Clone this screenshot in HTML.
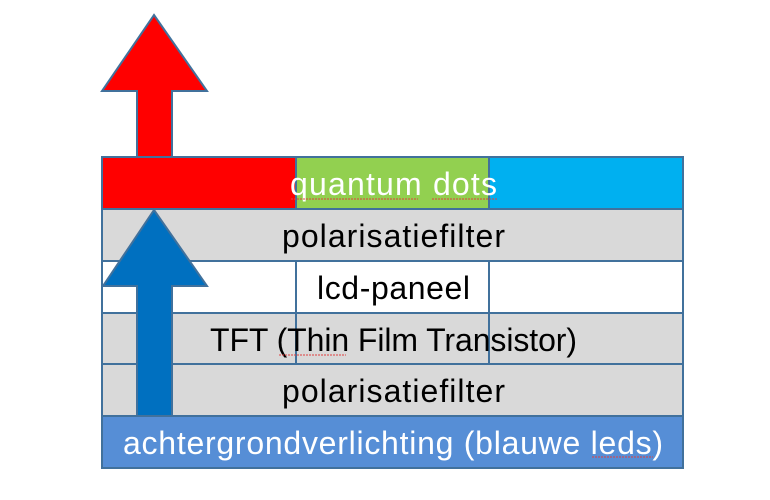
<!DOCTYPE html>
<html>
<head>
<meta charset="utf-8">
<style>
html,body{margin:0;padding:0;background:#fff;}
svg{display:block;}
text{font-family:"Liberation Sans",Arial,sans-serif;font-size:32px;}
</style>
</head>
<body>
<svg width="770" height="500" viewBox="0 0 770 500" xmlns="http://www.w3.org/2000/svg">
  <g stroke="#41719C" stroke-width="2">
    <!-- quantum dots row -->
    <rect x="102" y="157" width="194" height="52" fill="#FF0000"/>
    <rect x="296" y="157" width="193" height="52" fill="#92D050"/>
    <rect x="489" y="157" width="194" height="52" fill="#00B0F0"/>
    <!-- polarisatiefilter -->
    <rect x="102" y="209" width="581" height="52" fill="#D9D9D9"/>
    <!-- lcd-paneel -->
    <rect x="102" y="261" width="194" height="52" fill="#FFFFFF"/>
    <rect x="296" y="261" width="193" height="52" fill="#FFFFFF"/>
    <rect x="489" y="261" width="194" height="52" fill="#FFFFFF"/>
    <!-- TFT -->
    <rect x="102" y="313" width="194" height="51" fill="#D9D9D9"/>
    <rect x="296" y="313" width="193" height="51" fill="#D9D9D9"/>
    <rect x="489" y="313" width="194" height="51" fill="#D9D9D9"/>
    <!-- polarisatiefilter -->
    <rect x="102" y="364" width="581" height="52" fill="#D9D9D9"/>
    <!-- backlight -->
    <rect x="102" y="416" width="581" height="52" fill="#568ED6"/>
  </g>

  <!-- red arrow -->
  <polygon points="154,15 207,91 172,91 172,157 137,157 137,91 102,91" fill="#FF0000" stroke="#41719C" stroke-width="2" stroke-linejoin="miter"/>
  <!-- blue arrow -->
  <polygon points="154,210 207,286 172,286 172,416 137,416 137,286 103,286" fill="#0070C0" stroke="#41719C" stroke-width="2"/>

  <!-- texts -->
  <text x="393.5" y="195" text-anchor="middle" fill="#FFFFFF" textLength="207" lengthAdjust="spacing">quantum dots</text>
  <text x="393.5" y="247" text-anchor="middle" fill="#000000" textLength="223" lengthAdjust="spacing">polarisatiefilter</text>
  <text x="393.5" y="299" text-anchor="middle" fill="#000000" textLength="153" lengthAdjust="spacing">lcd-paneel</text>
  <text x="393.5" y="351" text-anchor="middle" fill="#000000" textLength="367" lengthAdjust="spacing">TFT (Thin Film Transistor)</text>
  <text x="393.5" y="402" text-anchor="middle" fill="#000000" textLength="223" lengthAdjust="spacing">polarisatiefilter</text>
  <text x="393" y="454" text-anchor="middle" fill="#FFFFFF" textLength="540" lengthAdjust="spacing">achtergrondverlichting (blauwe leds)</text>

  <!-- spell-check squiggles -->
  <g stroke="#E04040" stroke-width="1" stroke-dasharray="2,1" fill="none">
    <line x1="291" y1="199" x2="418" y2="199"/>
    <line x1="432" y1="199" x2="497" y2="199"/>
    <line x1="279" y1="355" x2="346" y2="355"/>
    <line x1="592" y1="457" x2="653" y2="457"/>
  </g>
</svg>
</body>
</html>
